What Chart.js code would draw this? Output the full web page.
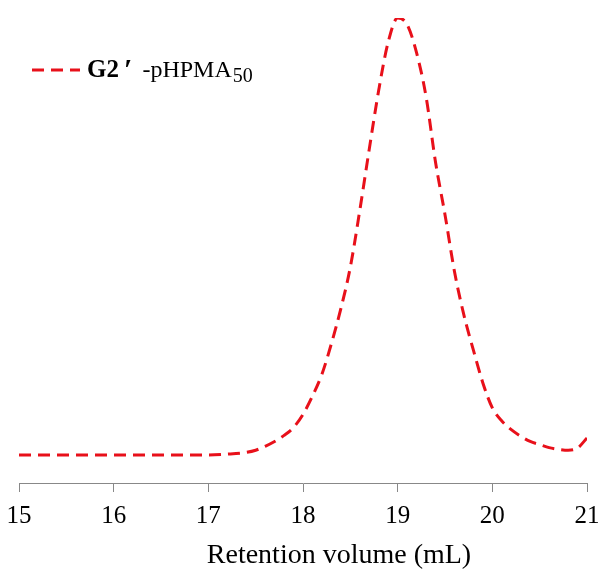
<!DOCTYPE html>
<html>
<head>
<meta charset="utf-8">
<script src="https://cdn.jsdelivr.net/npm/chart.js@4"></script>
<style>
  html, body { margin: 0; padding: 0; background: #fff; }
  #wrap { width: 603px; height: 569px; }
</style>
</head>
<body>
<div id="wrap"><canvas id="chart"></canvas></div>
<script>
// retention volume (mL) and normalised RI signal
const retentionVol = [15.0, 15.5, 16.0, 16.5, 17.0, 17.2, 17.4, 17.5, 17.6, 17.7, 17.8, 17.9,
  18.0, 18.1, 18.2, 18.3, 18.4, 18.5, 18.6, 18.7, 18.8, 18.9, 19.0, 19.1, 19.2, 19.3, 19.4,
  19.5, 19.6, 19.7, 19.8, 19.9, 20.0, 20.1, 20.2, 20.3, 20.4, 20.5, 20.6, 20.7, 20.8, 20.9, 21.0];
const signal = [0, 0, 0, 0, 0, 0.002, 0.006, 0.011, 0.02, 0.031, 0.045, 0.063,
  0.093, 0.135, 0.185, 0.255, 0.335, 0.43, 0.56, 0.70, 0.835, 0.945, 1.0, 0.985, 0.92, 0.82, 0.67,
  0.55, 0.42, 0.32, 0.24, 0.165, 0.108, 0.078, 0.058, 0.043, 0.031, 0.024, 0.017, 0.013, 0.011, 0.016, 0.039];

const xTicks = [15, 16, 17, 18, 19, 20, 21];
const xTitle = 'Retention volume (mL)';
// legend label: bold part, prime, normal part, subscript
const seriesName = ['G2', '\u2032', '-pHPMA', '50'];

const serif = "'Liberation Serif', 'Times New Roman', serif";
const red = '#e8101a';
const dash = [12, 7];

// legend + axis title drawn by hand (mixed bold/subscript, offset title)
const extras = {
  id: 'extras',
  afterDraw(chart) {
    const ctx = chart.ctx;
    const area = chart.chartArea;
    ctx.save();
    // legend sample line
    ctx.strokeStyle = red;
    ctx.lineWidth = 3;
    ctx.setLineDash(dash);
    ctx.beginPath();
    ctx.moveTo(32, 70);
    ctx.lineTo(80, 70);
    ctx.stroke();
    ctx.setLineDash([]);
    // legend text
    ctx.fillStyle = '#000';
    ctx.textBaseline = 'alphabetic';
    let x = 87;
    const y = 77;
    ctx.font = 'bold 25px ' + serif;
    ctx.fillText(seriesName[0], x, y);
    x += ctx.measureText(seriesName[0]).width + 5;
    ctx.font = 'bold 30px ' + serif;
    ctx.fillText(seriesName[1], x, y + 2);
    x += ctx.measureText(seriesName[1]).width + 10;
    ctx.font = '24px ' + serif;
    ctx.fillText(seriesName[2], x, y);
    x += ctx.measureText(seriesName[2]).width + 1;
    ctx.font = '20px ' + serif;
    ctx.fillText(seriesName[3], x, y + 5);
    // x axis title
    ctx.font = '28px ' + serif;
    ctx.textAlign = 'center';
    ctx.fillText(xTitle, (area.left + area.right) / 2 + 36, 563);
    ctx.restore();
  }
};

new Chart(document.getElementById('chart'), {
  type: 'line',
  data: {
    datasets: [{
      label: seriesName.join(''),
      data: retentionVol.map((v, i) => ({ x: v, y: signal[i] })),
      borderColor: red,
      borderWidth: 3,
      borderDash: dash,
      pointRadius: 0,
      fill: false,
      cubicInterpolationMode: 'monotone'
    }]
  },
  options: {
    responsive: true,
    maintainAspectRatio: false,
    animation: false,
    layout: { padding: { left: 19, right: 16, top: 18, bottom: 29 } },
    plugins: {
      legend: { display: false },
      tooltip: { enabled: false }
    },
    scales: {
      x: {
        type: 'linear',
        min: 15,
        max: 21,
        afterBuildTicks: axis => { axis.ticks = xTicks.map(v => ({ value: v })); },
        grid: { drawOnChartArea: false, drawTicks: true, tickLength: 9, color: '#888' },
        border: { display: true, color: '#888', width: 1 },
        ticks: {
          color: '#000',
          padding: 3,
          maxRotation: 0,
          font: { family: serif, size: 25, lineHeight: 1.68 }
        }
      },
      y: {
        display: false,
        min: -0.064,
        max: 1.0
      }
    }
  },
  plugins: [extras]
});
</script>
</body>
</html>
